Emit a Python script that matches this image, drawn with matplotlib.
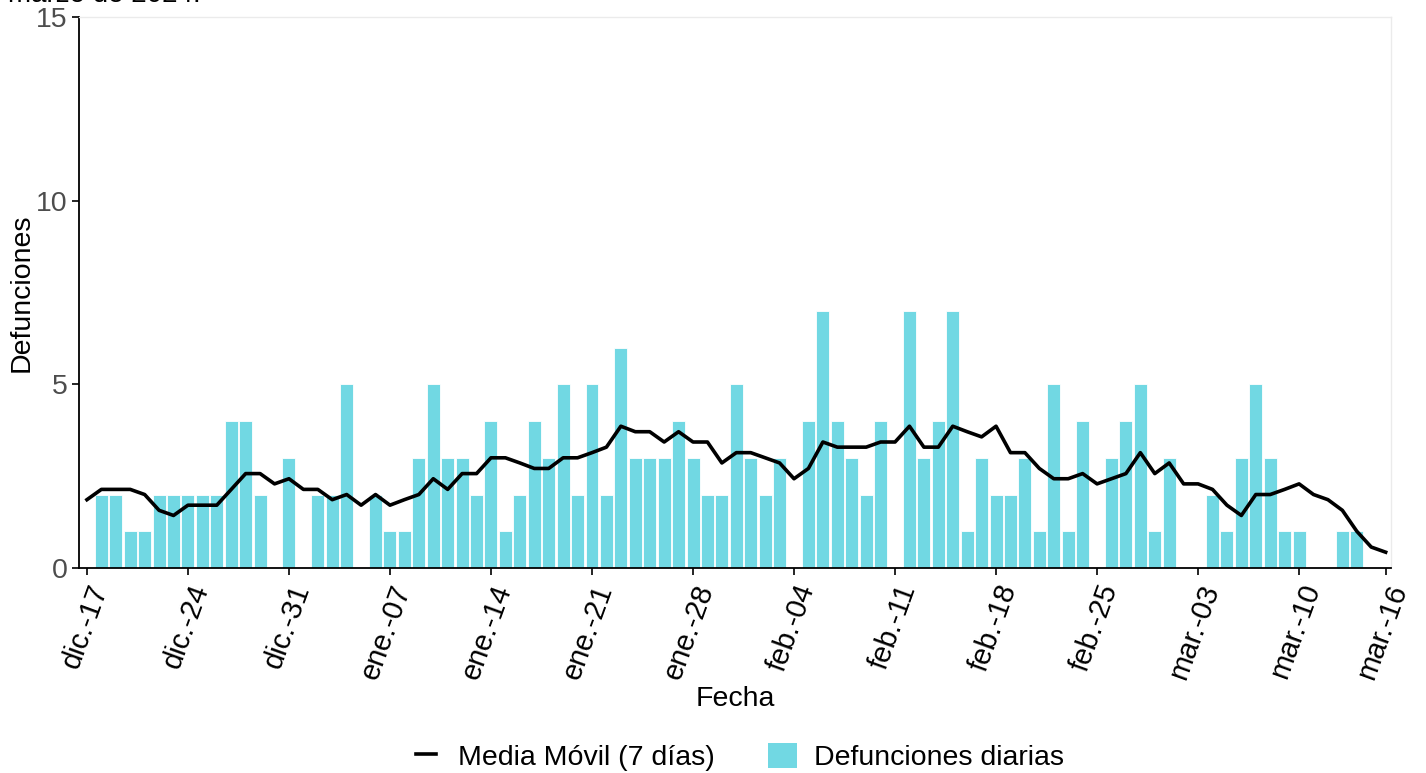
import numpy as np
import pandas as pd
import matplotlib
matplotlib.use("Agg")
import matplotlib.pyplot as plt
import matplotlib.dates as mdates
from matplotlib.lines import Line2D
from matplotlib.patches import Patch
from matplotlib.legend_handler import HandlerLine2D

plt.rcParams['font.family'] = ['Liberation Sans', 'DejaVu Sans']

fechas = pd.date_range("2023-12-17", "2024-03-16", freq="D")

defunciones = [0, 2, 2, 1, 1, 2, 2, 2, 2, 2,
               4, 4, 2, 0, 3, 0, 2, 2, 5, 0,
               2, 1, 1, 3, 5, 3, 3, 2, 4, 1,
               2, 4, 3, 5, 2, 5, 2, 6, 3, 3,
               3, 4, 3, 2, 2, 5, 3, 2, 3, 0,
               4, 7, 4, 3, 2, 4, 0, 7, 3, 4,
               7, 1, 3, 2, 2, 3, 1, 5, 1, 4,
               0, 3, 4, 5, 1, 3, 0, 0, 2, 1,
               3, 5, 3, 1, 1, 0, 0, 1, 1, 0,
               0]

media_movil = [1.86, 2.14, 2.14, 2.14, 2.00, 1.57, 1.43, 1.71, 1.71, 1.71,
               2.14, 2.57, 2.57, 2.29, 2.43, 2.14, 2.14, 1.86, 2.00, 1.71,
               2.00, 1.71, 1.86, 2.00, 2.43, 2.14, 2.57, 2.57, 3.00, 3.00,
               2.86, 2.71, 2.71, 3.00, 3.00, 3.14, 3.29, 3.86, 3.71, 3.71,
               3.43, 3.71, 3.43, 3.43, 2.86, 3.14, 3.14, 3.00, 2.86, 2.43,
               2.71, 3.43, 3.29, 3.29, 3.29, 3.43, 3.43, 3.86, 3.29, 3.29,
               3.86, 3.71, 3.57, 3.86, 3.14, 3.14, 2.71, 2.43, 2.43, 2.57,
               2.29, 2.43, 2.57, 3.14, 2.57, 2.86, 2.29, 2.29, 2.14, 1.71,
               1.43, 2.00, 2.00, 2.14, 2.29, 2.00, 1.86, 1.57, 1.00, 0.57,
               0.43]

tick_fechas = ["2023-12-17", "2023-12-24", "2023-12-31", "2024-01-07", "2024-01-14",
               "2024-01-21", "2024-01-28", "2024-02-04", "2024-02-11", "2024-02-18",
               "2024-02-25", "2024-03-03", "2024-03-10", "2024-03-16"]
tick_labels = ["dic.-17", "dic.-24", "dic.-31", "ene.-07", "ene.-14", "ene.-21",
               "ene.-28", "feb.-04", "feb.-11", "feb.-18", "feb.-25", "mar.-03",
               "mar.-10", "mar.-16"]

color_barra = "#71D8E3"


# shorter line key than the square bar key, like the original
class ShortLine(HandlerLine2D):
    def create_artists(self, legend, orig_handle, xdescent, ydescent, width, height, fontsize, trans):
        s = width * 0.15
        return super().create_artists(legend, orig_handle, xdescent - s, ydescent,
                                      width - 2 * s, height, fontsize, trans)


fig = plt.figure(figsize=(14.26, 7.73), dpi=100)
ax = fig.add_axes([79 / 1426, 1 - 568 / 773, (1391 - 79) / 1426, (568 - 17) / 773])

ax.bar(fechas, defunciones, width=0.9, color=color_barra, edgecolor="white", linewidth=0.6, zorder=1)
ax.plot(fechas, media_movil, color="black", linewidth=2.6, zorder=3)

x0 = mdates.date2num(fechas[0])
ax.set_xlim(x0 - 0.55, x0 + 90.37)
ax.set_ylim(0, 15)
ax.set_yticks([0, 5, 10, 15])

ax.set_xticks(mdates.date2num(pd.to_datetime(tick_fechas)))
ax.set_xticklabels(tick_labels, rotation=70, ha="right", va="top", rotation_mode="anchor")
ax.tick_params(axis="x", labelsize=21, colors="black", length=5, width=1.2, pad=4)
ax.tick_params(axis="y", labelsize=20.5, labelcolor="#4D4D4D", length=5, width=1.2, pad=3)

for s in ["left", "bottom"]:
    ax.spines[s].set_linewidth(1.3)
    ax.spines[s].set_color("black")
for s in ["top", "right"]:
    ax.spines[s].set_color("#EBEBEB")
    ax.spines[s].set_linewidth(1.0)

ax.set_xlabel("Fecha", fontsize=20.5, va="center")
ax.xaxis.set_label_coords(0.5, -(699 - 568) / 551)
ax.set_ylabel("Defunciones", fontsize=20.5, va="center")
ax.yaxis.set_label_coords(-(79 - 22) / 1312, 0.5)

fig.text(8 / 1426, 1 - 1.5 / 773, "marzo de 2024.", fontsize=20, va="baseline", ha="left")

handles = [Line2D([0], [0], color="black", linewidth=2.6),
           Patch(facecolor=color_barra, edgecolor="none")]
fig.legend(handles, ["Media Móvil (7 días)", "Defunciones diarias"],
           loc="center", bbox_to_anchor=(738 / 1426, 1 - 757 / 773), ncol=2,
           frameon=False, fontsize=20.5, handlelength=1.0, handleheight=1.0,
           handletextpad=0.6, columnspacing=1.9,
           handler_map={Line2D: ShortLine()})

fig.savefig("out.png", dpi=100)
